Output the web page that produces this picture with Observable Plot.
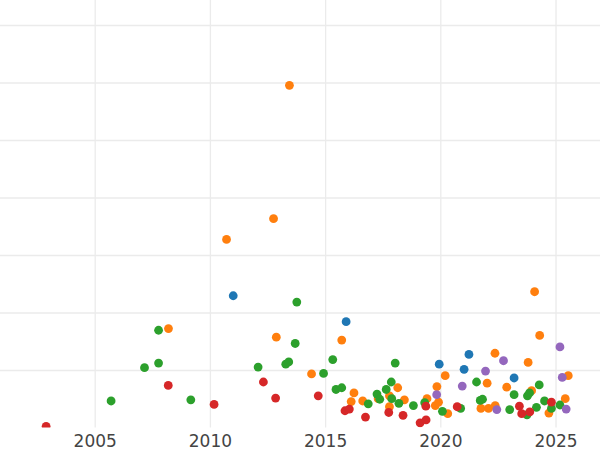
<!DOCTYPE html>
<html>
<head>
<meta charset="utf-8">
<script src="https://cdn.jsdelivr.net/npm/d3@7"></script>
<script src="https://cdn.jsdelivr.net/npm/@observablehq/plot@0.6"></script>
<style>
  html, body { margin: 0; padding: 0; background: #fff; }
  #chart svg { display: block; }
</style>
</head>
<body>
<div id="chart"></div>
<script>
// Series categories (drawn in this order)
const seriesNames = ["S1", "S2", "S3", "S4", "S5"];

// S1 (blue)
const s1Year  = [2010.99, 2015.89, 2019.93, 2021.22, 2021.01, 2023.18];
const s1Value = [2.30, 1.85, 1.11, 1.28, 1.02, 0.87];

// S2 (orange)
const s2Year  = [2013.43, 2012.74, 2010.70, 2008.18, 2012.86, 2015.70, 2014.39, 2016.23, 2016.11, 2016.61,
                 2017.28, 2018.13, 2017.77, 2017.77, 2018.42, 2019.83, 2019.40, 2019.76, 2019.90, 2020.30,
                 2020.19, 2022.35, 2022.01, 2021.74, 2022.07, 2022.36, 2022.86, 2023.79, 2024.07, 2024.29,
                 2023.94, 2025.53, 2025.40, 2024.69];
const s2Value = [5.96, 3.64, 3.28, 1.73, 1.58, 1.53, 0.94, 0.61, 0.46, 0.47,
                 0.51, 0.70, 0.56, 0.37, 0.49, 0.72, 0.51, 0.39, 0.45, 0.25,
                 0.91, 1.30, 0.78, 0.34, 0.34, 0.39, 0.71, 1.14, 2.37, 1.61,
                 0.65, 0.91, 0.51, 0.26];

// S3 (green)
const s3Year  = [2005.69, 2007.14, 2007.75, 2007.75, 2009.15, 2012.07, 2013.27, 2013.40, 2013.68, 2013.75,
                 2014.91, 2015.31, 2015.45, 2015.70, 2016.85, 2017.23, 2017.35, 2017.63, 2017.85, 2018.02,
                 2017.87, 2018.18, 2018.81, 2019.30, 2020.07, 2020.86, 2021.55, 2021.71, 2021.81, 2022.99,
                 2023.18, 2023.76, 2023.85, 2024.27, 2023.74, 2024.15, 2024.50, 2024.80, 2025.17];
const s3Value = [0.47, 1.05, 1.13, 1.70, 0.49, 1.06, 1.11, 1.15, 1.47, 2.19,
                 0.95, 1.19, 0.67, 0.70, 0.42, 0.59, 0.50, 0.67, 0.80, 1.13,
                 0.51, 0.43, 0.39, 0.44, 0.29, 0.34, 0.80, 0.48, 0.50, 0.32,
                 0.58, 0.56, 0.61, 0.75, 0.23, 0.36, 0.47, 0.34, 0.40];

// S4 (red)
const s4Year  = [2002.87, 2008.17, 2010.16, 2012.30, 2012.83, 2014.68, 2015.84, 2016.03, 2016.73, 2017.74,
                 2018.36, 2019.10, 2019.36, 2019.35, 2020.71, 2023.41, 2023.51, 2023.86, 2024.80];
const s4Value = [0.03, 0.74, 0.41, 0.80, 0.52, 0.56, 0.30, 0.33, 0.19, 0.27,
                 0.22, 0.09, 0.14, 0.38, 0.37, 0.38, 0.25, 0.28, 0.45];

// S5 (purple)
const s5Year  = [2019.82, 2020.93, 2021.94, 2022.72, 2022.43, 2025.17, 2025.27, 2025.44];
const s5Value = [0.58, 0.73, 0.99, 1.17, 0.32, 1.41, 0.88, 0.33];

const xTicks = [2005, 2010, 2015, 2020, 2025];
const yGrid  = [1, 2, 3, 4, 5, 6, 7];

const years  = [s1Year, s2Year, s3Year, s4Year, s5Year];
const values = [s1Value, s2Value, s3Value, s4Value, s5Value];

const data = seriesNames.flatMap((name, i) =>
  years[i].map((yr, j) => ({series: name, year: yr, value: values[i][j]}))
);

const chart = Plot.plot({
  width: 600,
  height: 450,
  marginTop: 0,
  marginLeft: 0,
  marginRight: 0,
  marginBottom: 22.5,
  style: {fontFamily: "DejaVu Sans", background: "#fff"},
  x: {domain: [2000.89, 2026.93]},
  y: {domain: [0, 7.435], axis: null},
  color: {domain: seriesNames, range: ["#1f77b4", "#ff7f0e", "#2ca02c", "#d62728", "#9467bd"]},
  marks: [
    Plot.gridY(yGrid, {stroke: "#ebebeb", strokeOpacity: 1, strokeWidth: 1.3}),
    Plot.gridX(xTicks, {stroke: "#ebebeb", strokeOpacity: 1, strokeWidth: 1.3}),
    Plot.axisX({ticks: xTicks, tickSize: 0, tickPadding: 7, fontSize: 17, fill: "#444",
                tickFormat: d => String(d), label: null}),
    Plot.dot(data, {x: "year", y: "value", fill: "series", r: 4.4, clip: true})
  ]
});

document.getElementById("chart").appendChild(chart);
</script>
</body>
</html>
